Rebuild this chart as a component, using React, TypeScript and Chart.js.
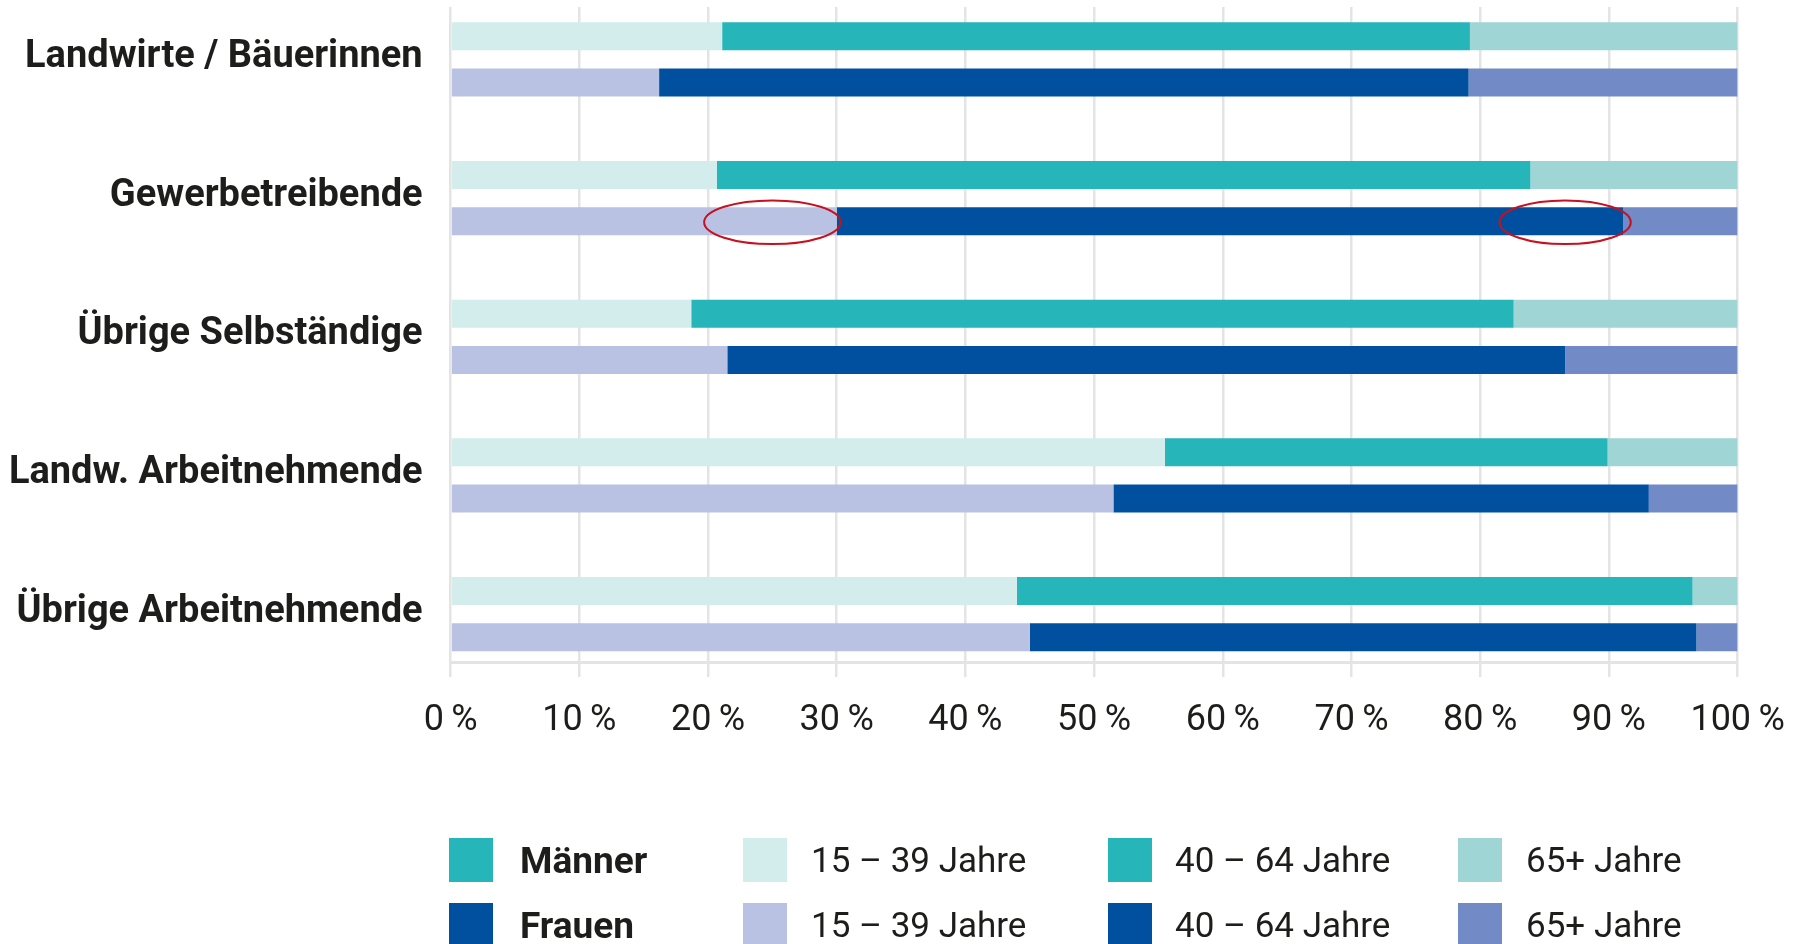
import React, { useEffect, useRef } from 'react';
import { Chart, registerables } from 'chart.js';

Chart.register(...registerables);

// ---------- data ----------
const categories = [
  'Landwirte / Bäuerinnen',
  'Gewerbetreibende',
  'Übrige Selbständige',
  'Landw. Arbeitnehmende',
  'Übrige Arbeitnehmende',
];
const sexes = ['Männer', 'Frauen'];
const ageGroups = ['15 – 39 Jahre', '40 – 64 Jahre', '65+ Jahre'];

const maenner15to39 = [21.1, 20.7, 18.7, 55.5, 44.0];
const maenner40to64 = [58.1, 63.2, 63.9, 34.4, 52.5];
const maenner65plus = [20.8, 16.1, 17.4, 10.1, 3.5];
const frauen15to39 = [16.2, 30.0, 21.5, 51.5, 45.0];
const frauen40to64 = [62.9, 61.1, 65.1, 41.6, 51.8];
const frauen65plus = [20.9, 8.9, 13.4, 6.9, 3.2];

const xTickValues = [0, 10, 20, 30, 40, 50, 60, 70, 80, 90, 100];

// highlighted ranges (red ellipses) on the Frauen bar of "Gewerbetreibende"
const highlightCategory = [1, 1];
const highlightFrom = [19.7, 81.5];
const highlightTo = [30.3, 91.7];

// ---------- styles ----------
const sexColors = ['#26b5b9', '#00509f'];
const maennerColors = ['#d3ecec', '#26b5b9', '#a0d5d6'];
const frauenColors = ['#bac2e3', '#00509f', '#728ac5'];
const TEXT = '#1d1d1b';
const GRID = '#e4e4e4';
const FONT = "Roboto, 'Liberation Sans', sans-serif";

const ellipsePlugin = {
  id: 'highlightEllipses',
  afterDatasetsDraw(chart: any) {
    const xs = chart.scales.x;
    const meta = chart.getDatasetMeta(3); // Frauen 15-39 dataset (stack F)
    const ctx = chart.ctx;
    ctx.save();
    ctx.strokeStyle = '#c8101e';
    ctx.lineWidth = 2;
    for (let i = 0; i < highlightCategory.length; i++) {
      const bar = meta.data[highlightCategory[i]];
      if (!bar) continue;
      const x0 = xs.getPixelForValue(highlightFrom[i]);
      const x1 = xs.getPixelForValue(highlightTo[i]);
      const cx = (x0 + x1) / 2;
      const rx = (x1 - x0) / 2;
      const ry = bar.height * 0.78;
      ctx.beginPath();
      ctx.ellipse(cx, bar.y + 1, rx, ry, 0, 0, Math.PI * 2);
      ctx.stroke();
    }
    ctx.restore();
  },
};

function toPoints(values: number[]) {
  return values.map((v, i) => ({ x: v, y: i }));
}

export default function App() {
  const ref = useRef<HTMLCanvasElement | null>(null);

  useEffect(() => {
    if (!ref.current) return;
    const maenner = [maenner15to39, maenner40to64, maenner65plus];
    const frauen = [frauen15to39, frauen40to64, frauen65plus];
    const datasets: any[] = [];
    maenner.forEach((vals, k) =>
      datasets.push({
        label: `${sexes[0]} ${ageGroups[k]}`,
        data: toPoints(vals),
        backgroundColor: maennerColors[k],
        stack: 'M',
      })
    );
    frauen.forEach((vals, k) =>
      datasets.push({
        label: `${sexes[1]} ${ageGroups[k]}`,
        data: toPoints(vals),
        backgroundColor: frauenColors[k],
        stack: 'F',
      })
    );
    datasets.forEach((d) => {
      d.borderWidth = 0;
      d.categoryPercentage = 0.6676;
      d.barPercentage = 0.605;
    });

    const chart = new Chart(ref.current, {
      type: 'bar',
      data: { datasets },
      plugins: [ellipsePlugin],
      options: {
        indexAxis: 'y',
        animation: false,
        responsive: false,
        devicePixelRatio: 1,
        layout: { padding: { top: 7, right: 58.4, bottom: 202, left: 0 } },
        plugins: { legend: { display: false }, tooltip: { enabled: false } },
        scales: {
          x: {
            type: 'linear',
            min: 0,
            max: 100,
            stacked: true,
            afterBuildTicks: (s: any) => {
              s.ticks = xTickValues.map((v) => ({ value: v }));
            },
            afterFit: (s: any) => {
              s.height = 80;
              s.paddingLeft = 0;
              s.paddingRight = 0;
            },
            ticks: {
              callback: (v: any) => `${v}\u2009%`,
              font: { family: FONT, size: 36 },
              color: TEXT,
              padding: 22,
              maxRotation: 0,
              autoSkip: false,
            },
            grid: { color: GRID, lineWidth: 2.5, tickLength: 15, drawTicks: true },
            border: { display: true, color: GRID, width: 3 },
          },
          y: {
            type: 'linear',
            reverse: true,
            offset: false,
            bounds: 'data',
            min: -0.378,
            max: 4.345,
            afterBuildTicks: (s: any) => {
              s.ticks = categories.map((_, i) => ({ value: i }));
            },
            afterFit: (s: any) => {
              s.width = 450.6;
              s.paddingTop = 0;
              s.paddingBottom = 0;
            },
            ticks: {
              callback: (v: any) => categories[v] ?? '',
              font: { family: FONT, size: 38, weight: 'bold' },
              color: TEXT,
              padding: 28,
              labelOffset: -2,
              autoSkip: false,
            },
            grid: { display: false, drawTicks: false, offset: false },
            border: { display: false },
          },
        },
      } as any,
    });
    return () => chart.destroy();
  }, []);

  const legendCols = [
    { sw: 449, tx: 520 },
    { sw: 743, tx: 811 },
    { sw: 1108, tx: 1175 },
    { sw: 1458, tx: 1526 },
  ];
  const legendRows = [838, 903];
  const rowColors = [maennerColors, frauenColors];

  const items: React.ReactNode[] = [];
  sexes.forEach((sex, r) => {
    const top = legendRows[r];
    const entries = [
      { label: sex, color: sexColors[r], bold: true },
      ...ageGroups.map((g, k) => ({ label: g, color: rowColors[r][k], bold: false })),
    ];
    entries.forEach((e, c) => {
      items.push(
        <div
          key={`sw-${r}-${c}`}
          style={{
            position: 'absolute',
            left: legendCols[c].sw,
            top,
            width: 44,
            height: 44,
            background: e.color,
          }}
        />
      );
      items.push(
        <div
          key={`tx-${r}-${c}`}
          style={{
            position: 'absolute',
            left: legendCols[c].tx,
            top,
            height: 44,
            display: 'flex',
            alignItems: 'center',
            fontFamily: FONT,
            fontSize: e.bold ? 37 : 35,
            fontWeight: e.bold ? 700 : 400,
            color: TEXT,
            whiteSpace: 'nowrap',
          }}
        >
          {e.label}
        </div>
      );
    });
  });

  return (
    <div
      style={{
        position: 'fixed',
        left: 0,
        top: 0,
        width: 1796,
        height: 944,
        overflow: 'hidden',
        background: '#ffffff',
      }}
    >
      <canvas ref={ref} width={1796} height={944} style={{ position: 'absolute', left: 0, top: 0 }} />
      {items}
    </div>
  );
}
